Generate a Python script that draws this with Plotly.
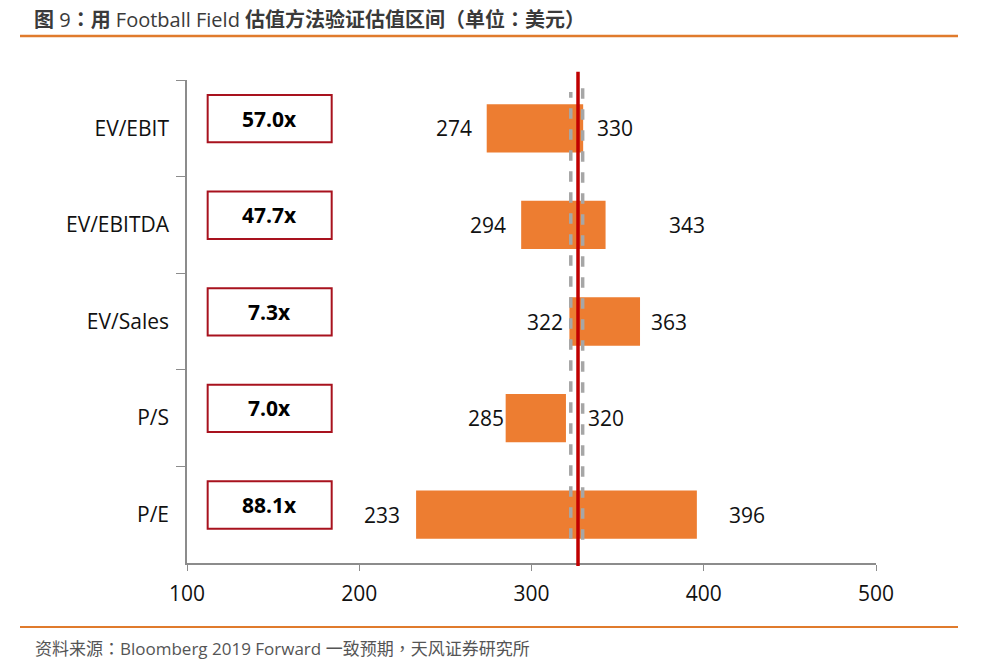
import plotly.graph_objects as go

categories = ["EV/EBIT", "EV/EBITDA", "EV/Sales", "P/S", "P/E"]
low_values = [274, 294, 322, 285, 233]
high_values = [330, 343, 363, 320, 396]
multiples = ["57.0x", "47.7x", "7.3x", "7.0x", "88.1x"]
current_price = 327
dashed_refs = [322.8, 329.7]
x_ticks = [100, 200, 300, 400, 500]

# label pixel shifts (styling only)
low_shift = [-13, -13, -4, 0, -14]
high_shift = [12, 61, 9, 20, 30]

FONT = "Open Sans, Noto Sans CJK SC, sans-serif"
TFONT = "Open Sans, Noto Sans CJK TC, sans-serif"
ORANGE = "#ED7D31"
PH = 483.0  # plot height in px

fig = go.Figure()
fig.add_trace(go.Bar(
    y=categories,
    x=[h - l for h, l in zip(high_values, low_values)],
    base=low_values,
    orientation="h",
    width=0.5,
    marker=dict(color=ORANGE, line=dict(width=0)),
    hoverinfo="skip",
))

shapes = []
annotations = []
for i, cat in enumerate(categories):
    annotations.append(dict(x=low_values[i], y=i, xref="x", yref="y", text=str(low_values[i]),
                            showarrow=False, xanchor="right", xshift=low_shift[i],
                            font=dict(size=21, color="#111111", family=FONT)))
    annotations.append(dict(x=high_values[i], y=i, xref="x", yref="y", text=str(high_values[i]),
                            showarrow=False, xanchor="left", xshift=high_shift[i],
                            font=dict(size=21, color="#111111", family=FONT)))
    yc = i - 0.1
    shapes.append(dict(type="rect", xref="x", yref="y", x0=112, x1=184, y0=yc - 0.245, y1=yc + 0.245,
                       line=dict(color="#A8121E", width=2), fillcolor="white", layer="above"))
    annotations.append(dict(x=148, y=yc, xref="x", yref="y", text="<b>" + multiples[i] + "</b>",
                            showarrow=False, xanchor="center",
                            font=dict(size=21, color="#000000", family=FONT)))

shapes.append(dict(type="line", xref="x", yref="paper", x0=dashed_refs[0], x1=dashed_refs[0], y0=0.05, y1=0.975,
                   line=dict(color="#A6A6A6", width=3.5, dash="dash"), layer="above"))
shapes.append(dict(type="line", xref="x", yref="paper", x0=dashed_refs[1], x1=dashed_refs[1], y0=0.048, y1=0.99,
                   line=dict(color="#A6A6A6", width=3.5, dash="dash"), layer="above"))
shapes.append(dict(type="line", xref="x", yref="paper", x0=current_price, x1=current_price, y0=-0.006, y1=1.017,
                   line=dict(color="#C00000", width=3.5), layer="above"))

shapes.append(dict(type="line", xref="paper", yref="paper", x0=-167/689, x1=771/689, y0=1.0 + 44/PH, y1=1.0 + 44/PH,
                   line=dict(color="#E07B2C", width=2.5)))
shapes.append(dict(type="line", xref="paper", yref="paper", x0=-167/689, x1=771/689, y0=-64/PH, y1=-64/PH,
                   line=dict(color="#E07B2C", width=2)))

title_html = ("<b>图</b> 9<b>：用</b> Football Field "
              "<b>估值方法验证估值区间（单位：美元）</b>")
annotations.append(dict(x=-154/689, y=1.0 + 60/PH, xref="paper", yref="paper", xanchor="left", yanchor="middle",
                        text=title_html, showarrow=False, borderpad=0,
                        font=dict(size=20, color="#3A3A3A", family=TFONT)))
annotations.append(dict(x=-154/689, y=-85/PH, xref="paper", yref="paper", xanchor="left", yanchor="middle",
                        text="资料来源：Bloomberg 2019 Forward 一致预期，天风证券研究所", showarrow=False,
                        font=dict(size=17, color="#555555", family=TFONT)))

fig.update_layout(
    width=981, height=663,
    margin=dict(l=179, r=113, t=72, b=108),
    paper_bgcolor="white", plot_bgcolor="white",
    showlegend=False,
    shapes=shapes,
    annotations=annotations,
    font=dict(family=FONT),
)
fig.update_xaxes(range=[100, 500], tickvals=x_ticks, showgrid=False, zeroline=False,
                 showline=True, linecolor="#8C8C8C", linewidth=1.5,
                 ticks="outside", ticklen=6, tickcolor="#8C8C8C", ticklabelstandoff=5,
                 tickfont=dict(size=21, color="#111111", family=FONT))
fig.update_yaxes(type="category", categoryorder="array", categoryarray=categories,
                 range=[4.5, -0.5], showgrid=False, zeroline=False,
                 showline=True, linecolor="#8C8C8C", linewidth=1.5,
                 ticks="outside", ticklen=9, tickcolor="#8C8C8C", tickson="boundaries",
                 ticklabelstandoff=12,
                 tickfont=dict(size=21, color="#111111", family=FONT))

fig.write_html("out.html")
